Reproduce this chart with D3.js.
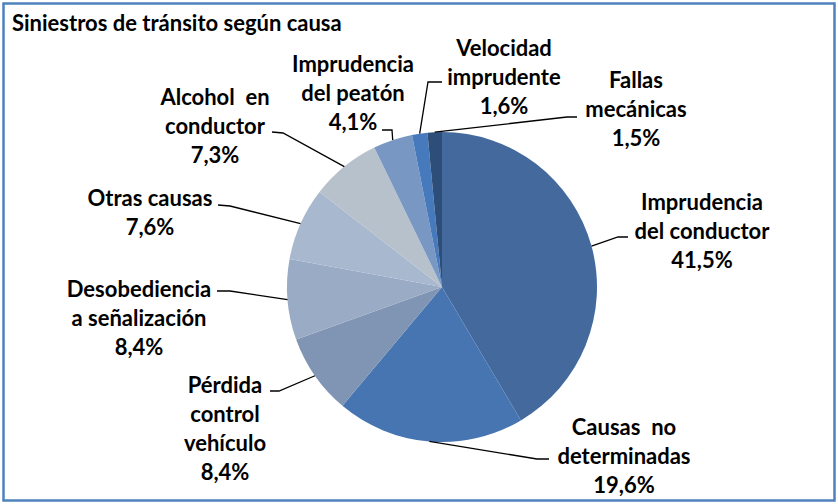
<!DOCTYPE html>
<html>
<head>
<meta charset="utf-8">
<script src="https://cdn.jsdelivr.net/npm/d3@7/dist/d3.min.js"></script>
<style>
  html, body { margin: 0; padding: 0; background: #fff; }
  svg text { font-family: Lato, "Open Sans", sans-serif; font-weight: 700; fill: #000; }
</style>
</head>
<body>
<svg id="chart" width="838" height="504"></svg>
<script>
// Siniestros de tránsito según causa — pie chart

const title = 'Siniestros de tránsito según causa';

// categories (label lines) and shares, clockwise from 12 o'clock
const causes = [
  ['Imprudencia', 'del conductor'],
  ['Causas  no', 'determinadas'],
  ['Pérdida', 'control', 'vehículo'],
  ['Desobediencia', 'a señalización'],
  ['Otras causas'],
  ['Alcohol  en', 'conductor'],
  ['Imprudencia', 'del peatón'],
  ['Velocidad', 'imprudente'],
  ['Fallas', 'mecánicas']
];
const shares = [41.5, 19.6, 8.4, 8.4, 7.6, 7.3, 4.1, 1.6, 1.5];

const sliceColors = ['#43699d', '#4675b1', '#8094b4', '#9aabc5', '#a8b8cf', '#b7c1cc', '#7898c3', '#4779bd', '#2e4e7a'];

// label layout: text centre x, first baseline, leader end (next to text) and elbow
const labelLayout = [
  { x: 702, y: 210, end: [628, 237], elbow: [618, 237] },
  { x: 624, y: 435, end: [549, 459], elbow: [537, 459] },
  { x: 225, y: 393, end: [270, 391], elbow: [279, 391] },
  { x: 139, y: 297, end: [217, 291], elbow: [230, 291] },
  { x: 150, y: 206, end: [218, 205], elbow: [230, 206] },
  { x: 215, y: 105, end: [272, 132], elbow: [283, 133] },
  { x: 353, y: 72,  end: [382, 130], elbow: [392, 130] },
  { x: 504, y: 56,  end: [442, 82],  elbow: [428, 82] },
  { x: 636, y: 88,  end: [577, 117], elbow: [567, 117] }
];

const LINE_H = 29;
const CX = 442, CY = 287, R = 155;

const svg = d3.select('#chart');

// frame
svg.append('rect')
  .attr('x', 3.5).attr('y', 3.5)
  .attr('width', 831).attr('height', 497)
  .attr('fill', '#fff')
  .attr('stroke', '#4f81bd')
  .attr('stroke-width', 2.5);

svg.append('text')
  .attr('x', 12).attr('y', 31)
  .style('font-size', '22px')
  .text(title);

const data = causes.map((c, i) => ({ lines: c, value: shares[i], color: sliceColors[i], pos: labelLayout[i] }));

const pie = d3.pie().value(d => d.value).sort(null);
const arcs = pie(data);

const arc = d3.arc().innerRadius(0).outerRadius(R);
const edge = d3.arc().innerRadius(R).outerRadius(R);

const g = svg.append('g').attr('transform', `translate(${CX},${CY})`);

g.selectAll('path.slice')
  .data(arcs)
  .join('path')
  .attr('class', 'slice')
  .attr('d', arc)
  .attr('fill', d => d.data.color);

// leader lines from slice mid-arc to the label
svg.append('g').selectAll('polyline')
  .data(arcs)
  .join('polyline')
  .attr('fill', 'none')
  .attr('stroke', '#000')
  .attr('stroke-width', 1.3)
  .attr('points', d => {
    const c = edge.centroid(d);
    const p = d.data.pos;
    return [[CX + c[0], CY + c[1]], p.elbow, p.end].map(q => q.join(',')).join(' ');
  });

// labels
const fmt = v => d3.format('.1f')(v).replace('.', ',') + '%';

const lbl = svg.append('g').selectAll('text')
  .data(arcs)
  .join('text')
  .attr('text-anchor', 'middle')
  .style('font-size', '22px')
  .style('white-space', 'pre');

lbl.each(function(d) {
  const t = d3.select(this);
  const p = d.data.pos;
  d.data.lines.concat([fmt(d.data.value)]).forEach((s, i) => {
    t.append('tspan')
      .attr('x', p.x)
      .attr('y', p.y + i * LINE_H)
      .text(s);
  });
});
</script>
</body>
</html>
